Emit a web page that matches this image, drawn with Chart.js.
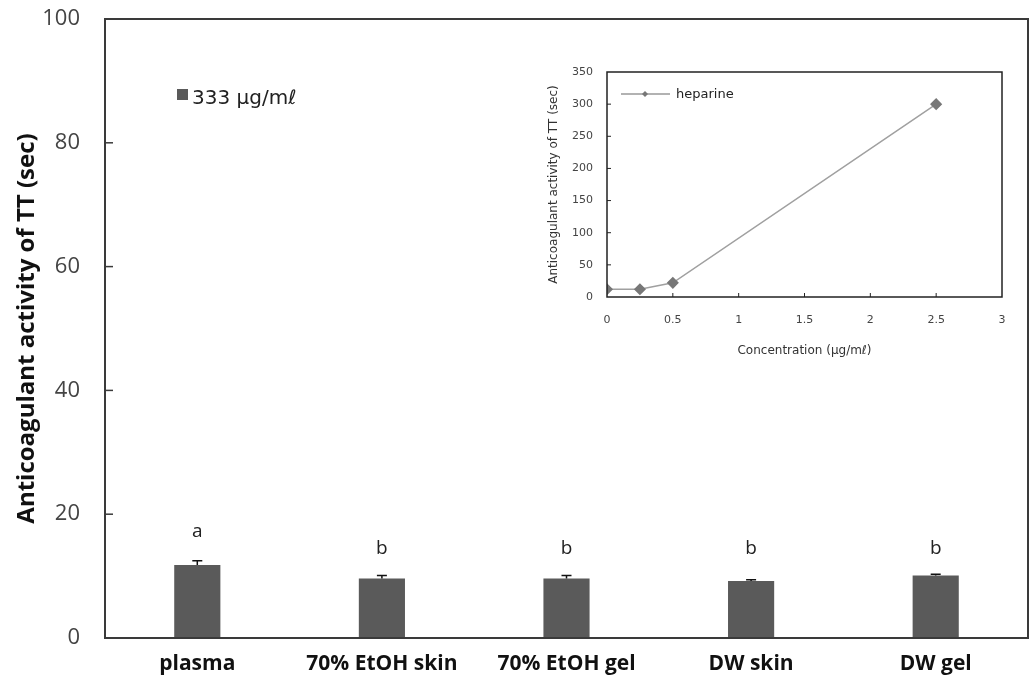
<!DOCTYPE html>
<html>
<head>
<meta charset="utf-8">
<script src="https://cdn.jsdelivr.net/npm/chart.js@4.4.0/dist/chart.umd.min.js"></script>
<style>
  html, body { margin: 0; padding: 0; background: #fff; }
  #wrap { position: relative; width: 1030px; height: 694px; }
  #mainChart { position: absolute; left: 0; top: 0; }
  #insetChart { position: absolute; left: 530px; top: 60px; }
</style>
</head>
<body>
<div id="wrap">
  <canvas id="mainChart" width="1030" height="694"></canvas>
  <canvas id="insetChart" width="490" height="310"></canvas>
</div>
<script>
'use strict';
// main bar chart data
var categories = ['plasma', '70% EtOH skin', '70% EtOH gel', 'DW skin', 'DW gel'];
var barValues = [11.8, 9.6, 9.6, 9.2, 10.1];
var barErrors = [0.7, 0.5, 0.5, 0.2, 0.2];
var sigLetters = ['a', 'b', 'b', 'b', 'b'];
var yTicks = [0, 20, 40, 60, 80, 100];
var seriesLabel = '333 \u03bcg/m\u2113';

// inset (heparine) data
var heparinConc = [0, 0.25, 0.5, 2.5];
var heparinTime = [12, 12, 22, 300];
var insetXTicks = [0, 0.5, 1, 1.5, 2, 2.5, 3];
var insetYTicks = [0, 50, 100, 150, 200, 250, 300, 350];

var barColor = '#5a5a5a';
var frameColor = '#3a3a3a';

// draws frame, inner ticks, error bars, letters and legend for the main chart
var mainExtras = {
  id: 'mainExtras',
  afterDatasetsDraw: function (chart) {
    var ctx = chart.ctx;
    var area = chart.chartArea;
    var yScale = chart.scales.y;
    var meta = chart.getDatasetMeta(0);

    ctx.save();
    // error bars (upper half only)
    ctx.strokeStyle = '#111';
    ctx.lineWidth = 1.5;
    for (var i = 0; i < barValues.length; i++) {
      var bx = meta.data[i].x;
      var yTop = yScale.getPixelForValue(barValues[i] + barErrors[i]);
      var yVal = yScale.getPixelForValue(barValues[i]);
      ctx.beginPath();
      ctx.moveTo(bx, yVal);
      ctx.lineTo(bx, yTop);
      ctx.moveTo(bx - 5, yTop);
      ctx.lineTo(bx + 5, yTop);
      ctx.stroke();

      // significance letters
      ctx.fillStyle = '#222';
      ctx.font = '19px "Open Sans"';
      ctx.textAlign = 'center';
      ctx.textBaseline = 'middle';
      var letterY = i === 0 ? yTop - 29 : yScale.getPixelForValue(14.5);
      ctx.fillText(sigLetters[i], bx, letterY);
    }

    // frame
    ctx.strokeStyle = frameColor;
    ctx.lineWidth = 2;
    ctx.strokeRect(area.left, area.top, area.right - area.left, area.bottom - area.top);

    // ticks pointing inside
    ctx.lineWidth = 1.5;
    for (var t = 1; t < yTicks.length - 1; t++) {
      var ty = yScale.getPixelForValue(yTicks[t]);
      ctx.beginPath();
      ctx.moveTo(area.left, ty);
      ctx.lineTo(area.left + 8, ty);
      ctx.stroke();
    }

    // legend
    ctx.fillStyle = barColor;
    ctx.fillRect(177, 89, 11, 11);
    ctx.fillStyle = '#222';
    ctx.font = '20px "DejaVu Sans"';
    ctx.textAlign = 'left';
    ctx.textBaseline = 'middle';
    ctx.fillText(chart.data.datasets[0].label, 192, 99);
    ctx.restore();
  }
};

var mainChart = new Chart(document.getElementById('mainChart').getContext('2d'), {
  type: 'bar',
  data: {
    labels: categories,
    datasets: [{
      label: seriesLabel,
      data: barValues,
      backgroundColor: barColor,
      borderWidth: 0,
      barPercentage: 0.25,
      categoryPercentage: 1
    }]
  },
  options: {
    responsive: false,
    animation: false,
    layout: { padding: { top: 19, right: 2, left: 0, bottom: 0 } },
    plugins: { legend: { display: false }, tooltip: { enabled: false } },
    scales: {
      x: {
        grid: { display: false, drawTicks: false },
        border: { display: false },
        ticks: { font: { family: 'Open Sans', size: 21, weight: 'bold' }, color: '#111', padding: 13, maxRotation: 0 },
        afterFit: function (scale) {
          scale.height = 56;
          scale.paddingLeft = 0;
          scale.paddingRight = 0;
        }
      },
      y: {
        min: 0,
        max: 100,
        grid: { display: false, drawTicks: false },
        border: { display: false },
        ticks: { font: { family: 'Open Sans', size: 22 }, color: '#444', padding: 25 },
        afterBuildTicks: function (scale) {
          scale.ticks = yTicks.map(function (v) { return { value: v }; });
        },
        title: {
          display: true,
          text: 'Anticoagulant activity of TT (sec)',
          font: { family: 'Open Sans', size: 24, weight: 'bold' },
          color: '#111',
          padding: { top: 13, bottom: 0 }
        },
        afterFit: function (scale) {
          scale.width = 105;
          scale.paddingTop = 0;
          scale.paddingBottom = 0;
        }
      }
    }
  },
  plugins: [mainExtras]
});

// inset chart extras: frame, inner ticks, legend
var insetExtras = {
  id: 'insetExtras',
  afterDatasetsDraw: function (chart) {
    var ctx = chart.ctx;
    var area = chart.chartArea;
    var xs = chart.scales.x;
    var ys = chart.scales.y;
    ctx.save();
    ctx.strokeStyle = '#222';
    ctx.lineWidth = 1.5;
    ctx.strokeRect(area.left, area.top, area.right - area.left, area.bottom - area.top);
    ctx.lineWidth = 1;
    for (var i = 1; i < insetYTicks.length - 1; i++) {
      var ty = ys.getPixelForValue(insetYTicks[i]);
      ctx.beginPath();
      ctx.moveTo(area.left, ty);
      ctx.lineTo(area.left + 4, ty);
      ctx.stroke();
    }
    for (var j = 1; j < insetXTicks.length - 1; j++) {
      var tx = xs.getPixelForValue(insetXTicks[j]);
      ctx.beginPath();
      ctx.moveTo(tx, area.bottom);
      ctx.lineTo(tx, area.bottom - 4);
      ctx.stroke();
    }
    // legend
    ctx.strokeStyle = '#999';
    ctx.lineWidth = 1.5;
    ctx.beginPath();
    ctx.moveTo(area.left + 14, 34);
    ctx.lineTo(area.left + 63, 34);
    ctx.stroke();
    ctx.fillStyle = '#777';
    ctx.beginPath();
    ctx.moveTo(area.left + 38, 31);
    ctx.lineTo(area.left + 41, 34);
    ctx.lineTo(area.left + 38, 37);
    ctx.lineTo(area.left + 35, 34);
    ctx.closePath();
    ctx.fill();
    ctx.fillStyle = '#222';
    ctx.font = '13px "DejaVu Sans"';
    ctx.textAlign = 'left';
    ctx.textBaseline = 'middle';
    ctx.fillText(chart.data.datasets[0].label, area.left + 69, 35);
    ctx.restore();
  }
};

var insetPoints = [];
for (var k = 0; k < heparinConc.length; k++) {
  insetPoints.push({ x: heparinConc[k], y: heparinTime[k] });
}

var insetChart = new Chart(document.getElementById('insetChart').getContext('2d'), {
  type: 'line',
  data: {
    datasets: [{
      label: 'heparine',
      data: insetPoints,
      borderColor: '#a0a0a0',
      borderWidth: 1.5,
      pointStyle: 'rectRot',
      pointRadius: 5,
      pointBackgroundColor: '#777',
      pointBorderColor: '#777',
      tension: 0
    }]
  },
  options: {
    responsive: false,
    animation: false,
    layout: { padding: { top: 12, right: 18, left: 0, bottom: 0 } },
    plugins: { legend: { display: false }, tooltip: { enabled: false } },
    scales: {
      x: {
        type: 'linear',
        min: 0,
        max: 3,
        grid: { display: false, drawTicks: false },
        border: { display: false },
        ticks: {
          font: { family: 'DejaVu Sans', size: 11 },
          color: '#444',
          padding: 17,
          callback: function (value) { return String(value); }
        },
        afterBuildTicks: function (scale) {
          scale.ticks = insetXTicks.map(function (v) { return { value: v }; });
        },
        title: {
          display: true,
          text: 'Concentration (\u03bcg/m\u2113)',
          font: { family: 'DejaVu Sans', size: 12 },
          color: '#333',
          padding: { top: 4, bottom: 12 }
        },
        afterFit: function (scale) {
          scale.height = 73;
          scale.paddingLeft = 0;
          scale.paddingRight = 0;
        }
      },
      y: {
        min: 0,
        max: 350,
        grid: { display: false, drawTicks: false },
        border: { display: false },
        ticks: { font: { family: 'DejaVu Sans', size: 11 }, color: '#444', padding: 14 },
        afterBuildTicks: function (scale) {
          scale.ticks = insetYTicks.map(function (v) { return { value: v }; });
        },
        title: {
          display: true,
          text: 'Anticoagulant activity of TT (sec)',
          font: { family: 'DejaVu Sans', size: 12 },
          color: '#333',
          padding: { top: 17, bottom: 0 }
        },
        afterFit: function (scale) {
          scale.width = 77;
          scale.paddingTop = 0;
          scale.paddingBottom = 0;
        }
      }
    }
  },
  plugins: [insetExtras]
});
</script>
</body>
</html>
